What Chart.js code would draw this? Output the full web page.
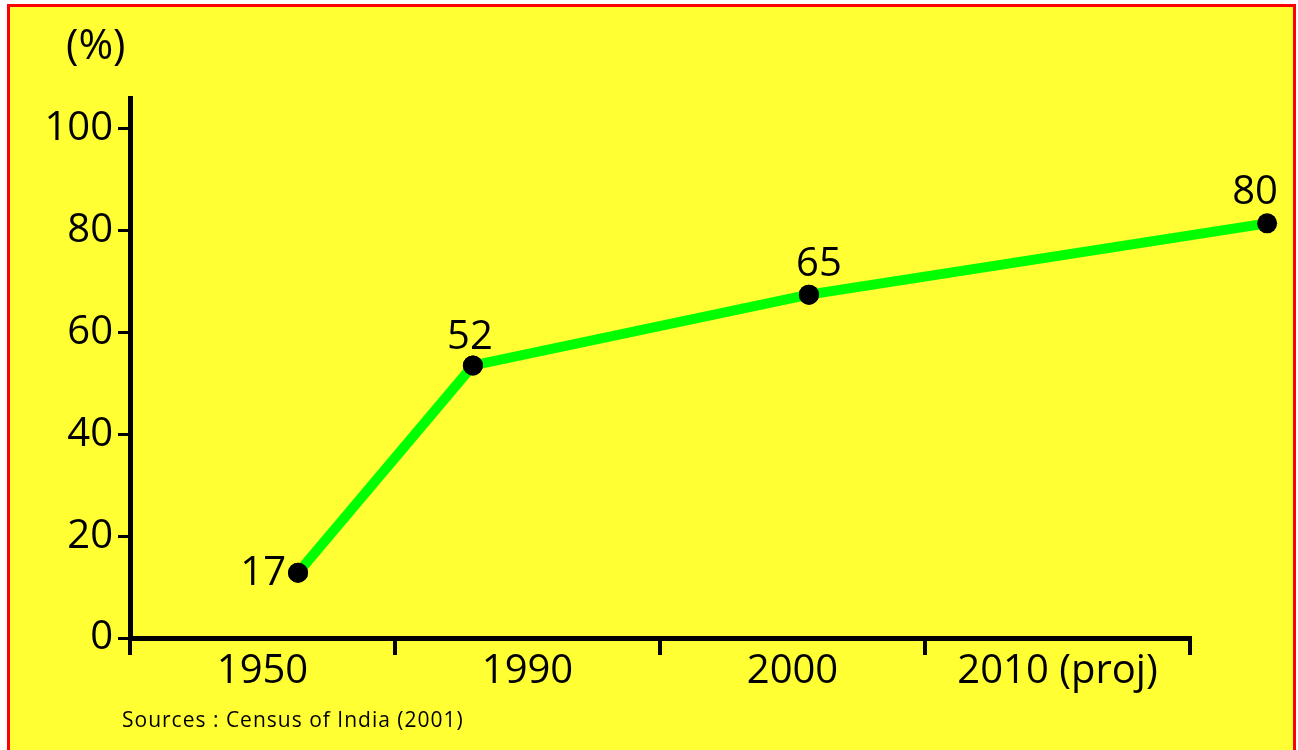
<!DOCTYPE html>
<html>
<head>
<meta charset="utf-8">
<script src="https://cdn.jsdelivr.net/npm/chart.js@4.4.1/dist/chart.umd.min.js"></script>
<style>
  body { margin: 0; overflow: hidden; font-family: "Open Sans", sans-serif; }
  #frame {
    position: absolute; left: 7px; top: 4px;
    width: 1283px; height: 780px;
    border: 3px solid #ff0000;
    background: #ffff33;
  }
  #wrap { position: absolute; left: 0; top: 0; width: 1298px; height: 750px; }
  #unit { position: absolute; left: 66px; top: 14px; font-size: 42px; color: #000; }
  #source { position: absolute; left: 122px; top: 705px; font-size: 21px; letter-spacing: 1px; color: #000; }
</style>
</head>
<body>
<div id="frame"></div>
<div id="wrap"><canvas id="chart" width="1298" height="750"></canvas></div>
<div id="unit">(%)</div>
<div id="source">Sources : Census of India (2001)</div>
<script>
const categories = ["1950", "1990", "2000", "2010 (proj)"];
// where the points sit along the x axis (in category bands) and on the y axis
const pointX = [0.634, 1.294, 2.562, 4.291];
const pointY = [12.8, 53.5, 67.4, 81.4];
const valueLabels = ["17", "52", "65", "80"];
const yTicks = [0, 20, 40, 60, 80, 100];

const FONT = "'Open Sans', sans-serif";

let points = [];
for (let i = 0; i < pointX.length; i++) {
  points.push({ x: pointX[i], y: pointY[i] });
}

// label placement next to each point
const labelPos = [
  { align: "right", dx: -12, dy: 12 },
  { align: "center", dx: -3, dy: -16 },
  { align: "center", dx: 10, dy: -19 },
  { align: "center", dx: -12, dy: -19 }
];

const valueLabelPlugin = {
  id: "valueLabels",
  afterDatasetsDraw(chart) {
    const meta = chart.getDatasetMeta(0);
    const c = chart.ctx;
    // the last point sits past the end of the axis, so draw markers without the chart area cut-off
    const whole = { left: 0, top: 0, right: chart.width, bottom: chart.height };
    meta.data.forEach(pt => pt.draw(c, whole));

    c.save();
    c.font = "40px " + FONT;
    c.fillStyle = "#000";
    c.textBaseline = "alphabetic";
    meta.data.forEach((pt, i) => {
      const p = labelPos[i];
      c.textAlign = p.align;
      c.fillText(valueLabels[i], pt.x + p.dx, pt.y + p.dy);
    });
    c.restore();
  }
};

new Chart(document.getElementById("chart"), {
  type: "line",
  data: {
    labels: categories,
    datasets: [{
      data: points,
      xAxisID: "xp",
      borderColor: "#00ff00",
      borderWidth: 10,
      tension: 0,
      pointRadius: 10,
      pointHoverRadius: 10,
      pointBackgroundColor: "#000",
      pointBorderWidth: 0,
      clip: false
    }]
  },
  options: {
    responsive: false,
    animation: false,
    layout: { padding: { left: 0, right: 108, top: 98, bottom: 0 } },
    plugins: { legend: { display: false }, tooltip: { enabled: false } },
    scales: {
      x: {
        type: "category",
        offset: true,
        afterFit(scale) { scale.height = 112; },
        grid: {
          display: true,
          offset: true,
          drawOnChartArea: false,
          drawTicks: true,
          tickLength: 17,
          lineWidth: 4,
          color: "#000"
        },
        border: { display: true, width: 5, color: "#000" },
        ticks: {
          color: "#000",
          padding: -7,
          maxRotation: 0,
          font: { family: FONT, size: 40 }
        }
      },
      xp: {
        type: "linear",
        min: 0,
        max: 4,
        display: false
      },
      y: {
        min: 0,
        max: 106,
        afterFit(scale) { scale.width = 130; },
        afterBuildTicks(scale) { scale.ticks = yTicks.map(v => ({ value: v })); },
        grid: {
          display: true,
          drawOnChartArea: false,
          tickLength: 12,
          lineWidth: 3,
          color: "#000"
        },
        border: { display: true, width: 5, color: "#000" },
        ticks: {
          color: "#000",
          padding: 5,
          font: { family: FONT, size: 40 }
        }
      }
    }
  },
  plugins: [valueLabelPlugin]
});
</script>
</body>
</html>
